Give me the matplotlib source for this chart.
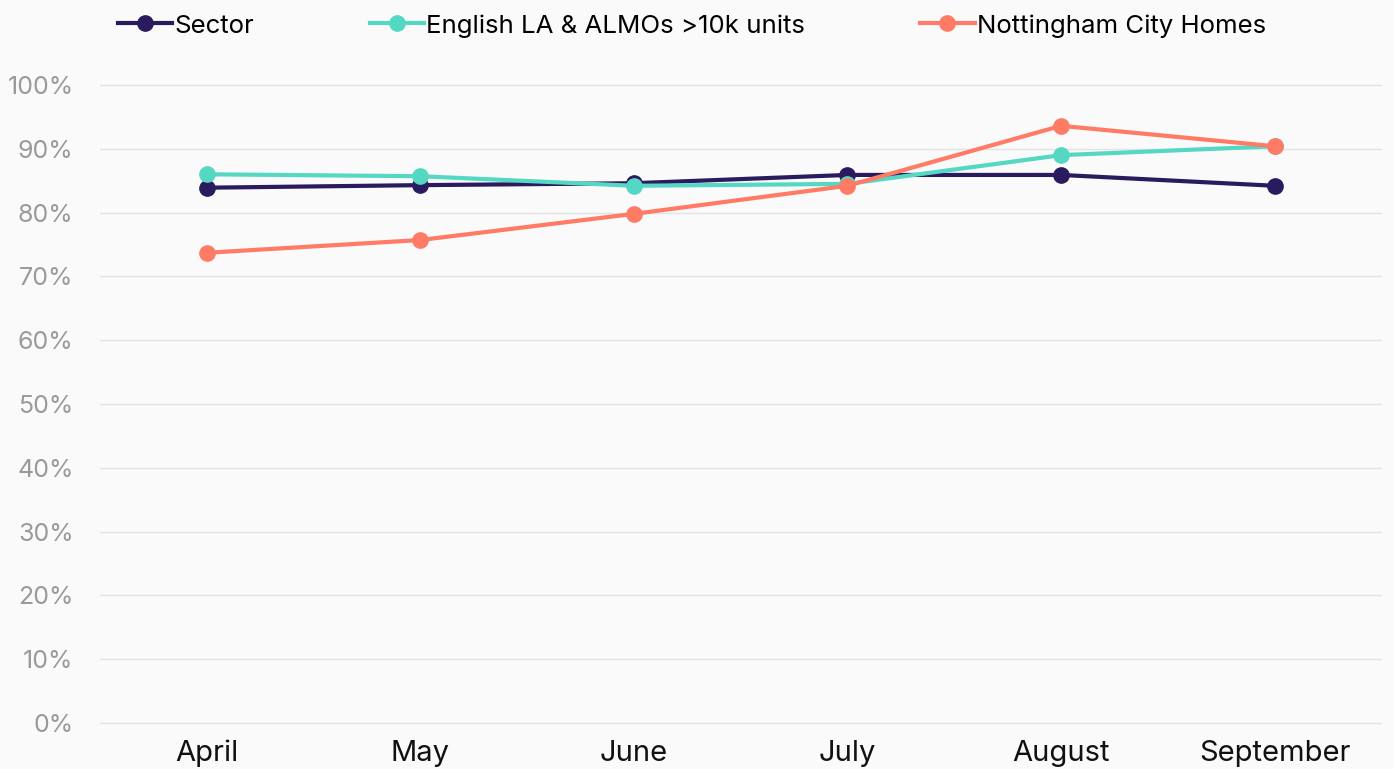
import matplotlib
matplotlib.use("Agg")
import matplotlib.pyplot as plt
from matplotlib.ticker import PercentFormatter

months = ["April", "May", "June", "July", "August", "September"]
sector = [83.9, 84.3, 84.6, 85.9, 85.9, 84.2]
english = [86.0, 85.7, 84.2, 84.5, 89.0, 90.4]
nottingham = [73.7, 75.7, 79.8, 84.2, 93.6, 90.4]

series = [
    ("Sector", sector, "#2a1a5e"),
    ("English LA & ALMOs >10k units", english, "#54d8c4"),
    ("Nottingham City Homes", nottingham, "#ff7b65"),
]

plt.rcParams['font.family'] = ['Inter', 'DejaVu Sans']

fig = plt.figure(figsize=(13.94, 7.69), dpi=100)
fig.patch.set_facecolor("#fafafa")
ax = fig.add_axes([0.0717, 0.0598, 0.9193, 0.8297])
ax.set_facecolor("#fafafa")

x = list(range(len(months)))
for name, vals, col in series:
    ax.plot(x, vals, color=col, lw=3, marker="o", ms=11, label=name, zorder=3)

ax.set_xlim(-0.5, 5.5)
ax.set_ylim(0, 100)
ax.set_yticks(range(0, 101, 10))
ax.yaxis.set_major_formatter(PercentFormatter(decimals=0))
ax.set_xticks(x)
ax.set_xticklabels(months)
ax.grid(axis="y", color="#e3e3e3", lw=1)
for gl in ax.get_ygridlines():
    gl.set_clip_on(False)
ax.set_axisbelow(True)
for s in ax.spines.values():
    s.set_visible(False)
ax.tick_params(axis="y", length=0, pad=19, labelsize=18, labelcolor="#9a9a9a")
ax.tick_params(axis="x", length=0, pad=12, labelsize=21, labelcolor="#111111")

leg = fig.legend(loc="upper left", bbox_to_anchor=(0.068, 1.012), ncol=3, frameon=False,
                 fontsize=18.6, handlelength=2.1, handletextpad=0.1, columnspacing=4.45)

fig.savefig("out.png", dpi=100, facecolor=fig.get_facecolor())
